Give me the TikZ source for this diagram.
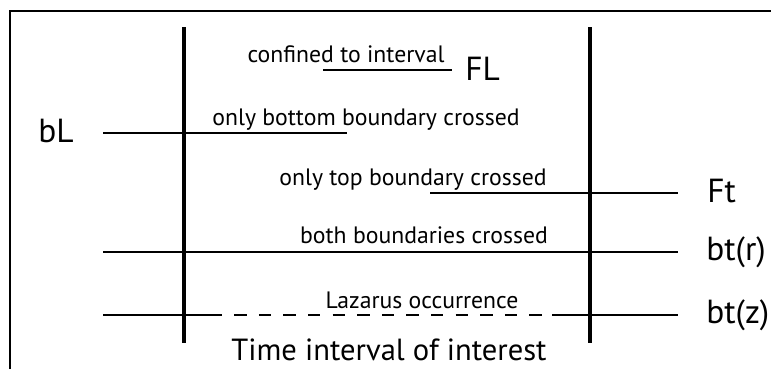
\documentclass[tikz,border=0pt]{standalone}
\usepackage{fontspec}
\setmainfont{PT Sans}
\begin{document}
\begin{tikzpicture}[x=0.02cm, y=-0.02cm]
\tikzset{barre/.style={line width=2.3pt},
  trait/.style={line width=1.1pt},
  petit/.style={font=\fontsize{13.5}{15}\selectfont, inner sep=0pt, anchor=base},
  grand/.style={font=\fontsize{19}{21}\selectfont, inner sep=0pt, anchor=base west}}
\useasboundingbox (0,0) rectangle (771,369);
\draw[line width=0.6pt] (10,369) -- (10,11) -- (771,11);
% the two boundaries of the interval
\coordinate (B1) at (184,27);
\coordinate (B2) at (184,343);
\coordinate (T1) at (590,27);
\coordinate (T2) at (590,343);
\draw[barre] (B1) -- (B2);
\draw[barre] (T1) -- (T2);
% ranges
\coordinate (A1) at (323,70);
\coordinate (A2) at (452,70);
\coordinate (C1) at (103,133);
\coordinate (C2) at (347,133);
\coordinate (D1) at (430,193);
\coordinate (D2) at (678,193);
\coordinate (E1) at (103,252);
\coordinate (E2) at (678,252);
\coordinate (G1) at (103,315);
\coordinate (G2) at (222,315);
\coordinate (G3) at (552,315);
\coordinate (G4) at (678,315);
\draw[trait] (A1) -- (A2);
\draw[trait] (C1) -- (C2);
\draw[trait] (D1) -- (D2);
\draw[trait] (E1) -- (E2);
\draw[trait] (G1) -- (G2);
\draw[trait, dash pattern=on 7pt off 7pt, dash phase=-7pt] (G2) -- (G3);
\draw[trait] (G3) -- (G4);
% texts
\node[petit] (N1) at (346,62) {confined to interval};
\node[petit] (N2) at (366,125) {only bottom boundary crossed};
\node[petit] (N3) at (413,185) {only top boundary crossed};
\node[petit] (N4) at (424,243) {both boundaries crossed};
\node[petit] (N5) at (422,308) {Lazarus occurrence};
\node[grand] (FL) at (465,80) {FL};
\node[grand] (bL) at (38,142) {bL};
\node[grand] (Ft) at (707,202) {Ft};
\node[grand] (btr) at (706,260) {bt(r)};
\node[grand] (btz) at (706,323) {bt(z)};
\node[font=\fontsize{17.4}{19}\selectfont, inner sep=0pt, anchor=base] (TI) at (389,360) {Time interval of interest};
\end{tikzpicture}
\end{document}
